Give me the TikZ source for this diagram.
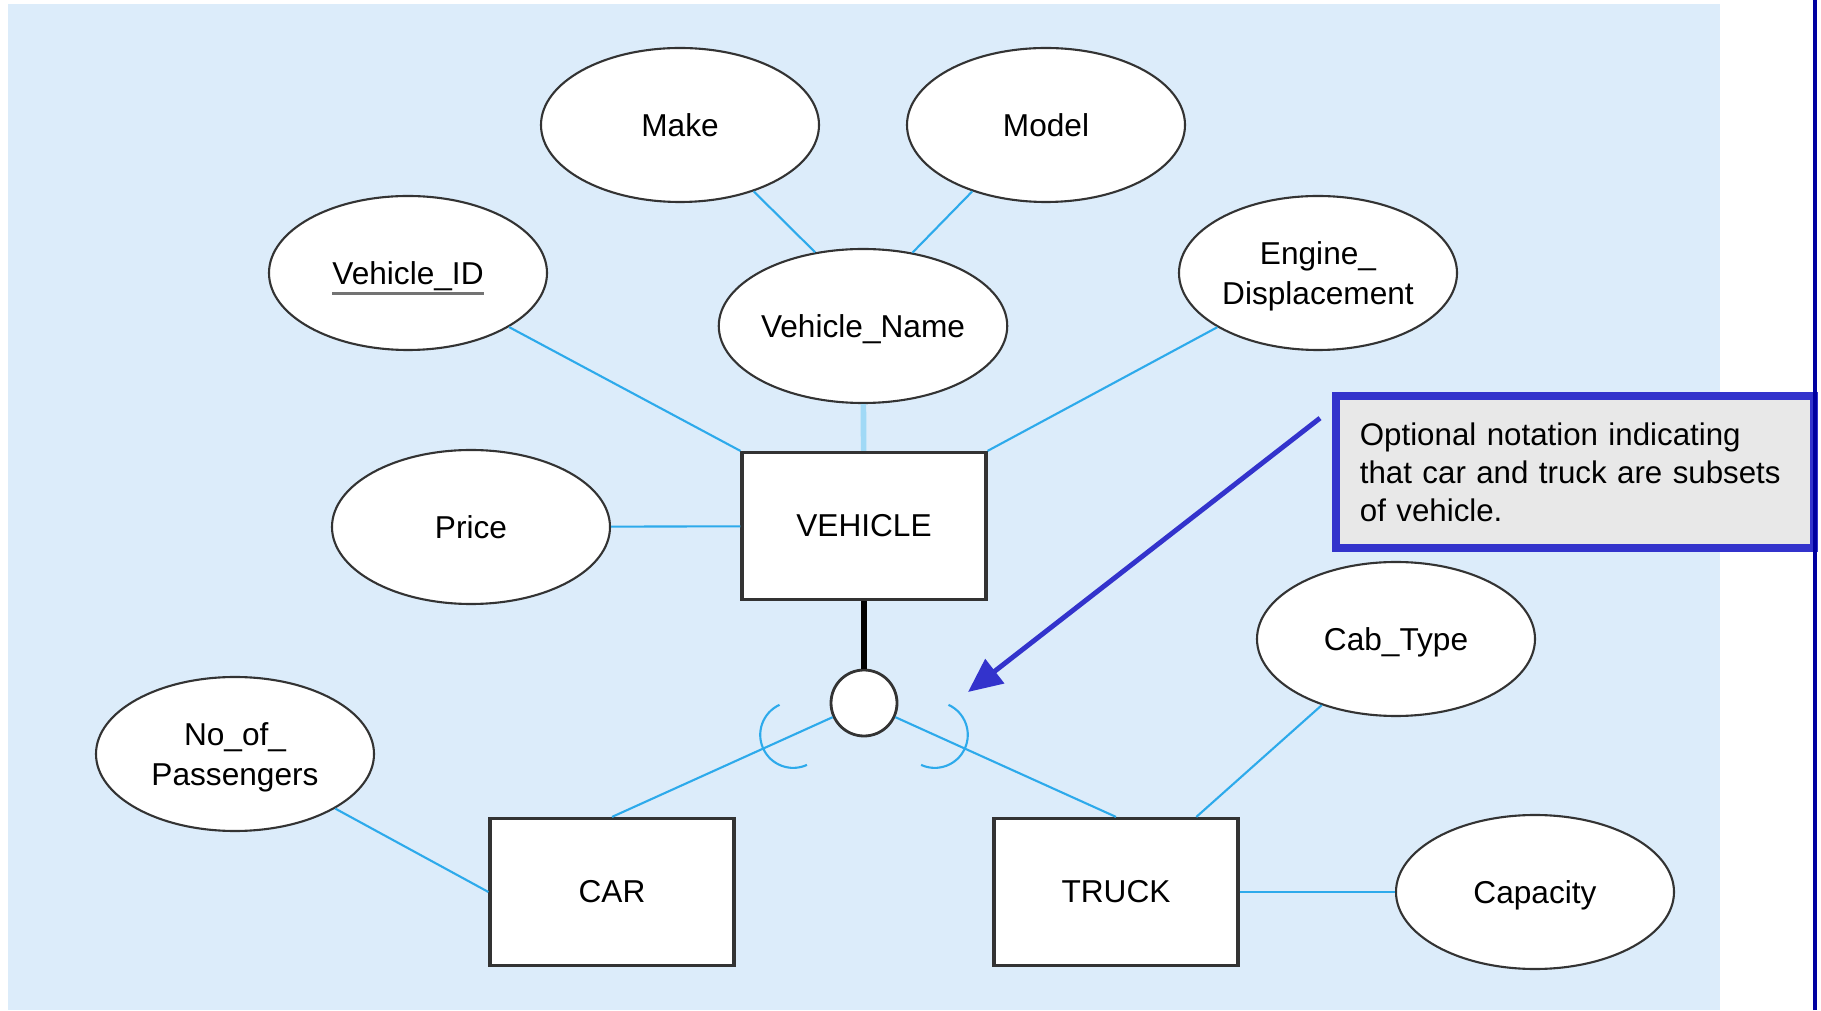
\documentclass[tikz,border=0pt]{standalone}
\usepackage{xcolor}
\usepackage{fontspec}
\setmainfont{Liberation Sans}
\usepackage{tikz}
\usetikzlibrary{calc,shapes.geometric,arrows.meta}

\definecolor{panelblue}{RGB}{220,236,250}
\definecolor{linkblue}{RGB}{45,170,235}
\definecolor{notefill}{RGB}{232,232,232}
\definecolor{noteblue}{RGB}{51,51,204}
\definecolor{edgeblue}{RGB}{0,0,160}

\newcommand{\keyattr}[1]{\setbox0=\hbox{#1}\rlap{\textcolor{black!55}{\rule[-2.9pt]{\wd0}{0.8pt}}}\box0}
\newcommand{\nodepth}[1]{\raisebox{0pt}[\height][0pt]{#1}}

\tikzset{
  attr/.style={ellipse, draw=black!80, fill=white, line width=0.6pt, minimum width=2.78cm, minimum height=1.54cm, inner sep=0pt, align=center},
  entity/.style={draw=black!80, fill=white, line width=0.9pt, minimum width=2.44cm, minimum height=1.47cm, inner sep=0pt},
  isa/.style={circle, draw=black!80, fill=white, line width=0.8pt, minimum size=0.66cm, inner sep=0pt},
  link/.style={linkblue, line width=0.6pt},
  note/.style={draw=noteblue, fill=notefill, line width=2.2pt, minimum height=1.52cm, text width=4.30cm, inner xsep=0.24cm, align=left, font=\fontsize{8.9}{10.8}\selectfont},
  pointer/.style={noteblue, line width=1.4pt, -{Triangle[length=0.34cm,width=0.3cm]}}
}

\begin{document}
\begin{tikzpicture}[font=\fontsize{9}{11.2}\selectfont]
\useasboundingbox (0,0) rectangle (18.21,10.10);
\fill[panelblue] (0.08,0) rectangle (17.20,10.06);

\node[attr] (make) at (6.80,8.85) {Make};
\node[attr] (model) at (10.46,8.85) {Model};
\node[attr] (vid) at (4.08,7.37) {\nodepth{\keyattr{Vehicle\_ID}}};
\node[attr] (vname) at (8.63,6.84) {\nodepth{Vehicle\_Name}};
\node[attr] (engine) at (13.18,7.37) {Engine\_\\\nodepth{Displacement}};
\node[attr] (price) at (4.71,4.83) {Price};
\node[attr] (nop) at (2.35,2.56) {No\_of\_\\\nodepth{Passengers}};
\node[attr] (cab) at (13.96,3.71) {\nodepth{Cab\_Type}};
\node[attr] (cap) at (15.35,1.18) {\nodepth{Capacity}};

\node[entity] (vehicle) at (8.64,4.84) {VEHICLE};
\node[entity] (car) at (6.12,1.18) {CAR};
\node[entity] (truck) at (11.16,1.18) {TRUCK};
\node[isa] (isa) at (8.64,3.07) {};

\draw[link] (make.-42) -- (vname.123);
\draw[link] (model.222) -- (vname.56);
\draw[link] (vid) -- (vehicle.north west);
\draw[link] (engine) -- (vehicle.north east);
\draw[link] (price) -- (vehicle);
\draw[linkblue!45, line width=1.6pt] (vname) -- (vehicle);
\draw[line width=1.7pt] (vehicle) -- (isa);
\draw[link] (isa) -- (car.north);
\draw[link] (isa) -- (truck.north);
\draw[link] (nop) -- (car.west);
\draw[link] (cab) -- ($(truck.north)!0.65!(truck.north east)$);
\draw[link] (truck) -- (cap);

\coordinate (carsub) at ($(car.north)!0.6!(isa)$);
\coordinate (trucksub) at ($(truck.north)!0.6!(isa)$);
\begin{scope}[shift={(carsub)}, rotate=24.5]
\draw[link] (0.33,0.33) arc (90:270:0.33);
\end{scope}
\begin{scope}[shift={(trucksub)}, rotate=155.5]
\draw[link] (0.33,0.33) arc (90:270:0.33);
\end{scope}

\node[note, anchor=west] (note) at (13.32,5.38) {Optional notation indicating\\that car and truck are subsets\\of vehicle.};
\coordinate (pointat) at (9.68,3.18);
\draw[pointer] ([xshift=-0.12cm,yshift=-0.26cm]note.north west) -- (pointat);
\draw[edgeblue, line width=0.04cm] (18.15,0) -- (18.15,10.10);
\end{tikzpicture}
\end{document}
